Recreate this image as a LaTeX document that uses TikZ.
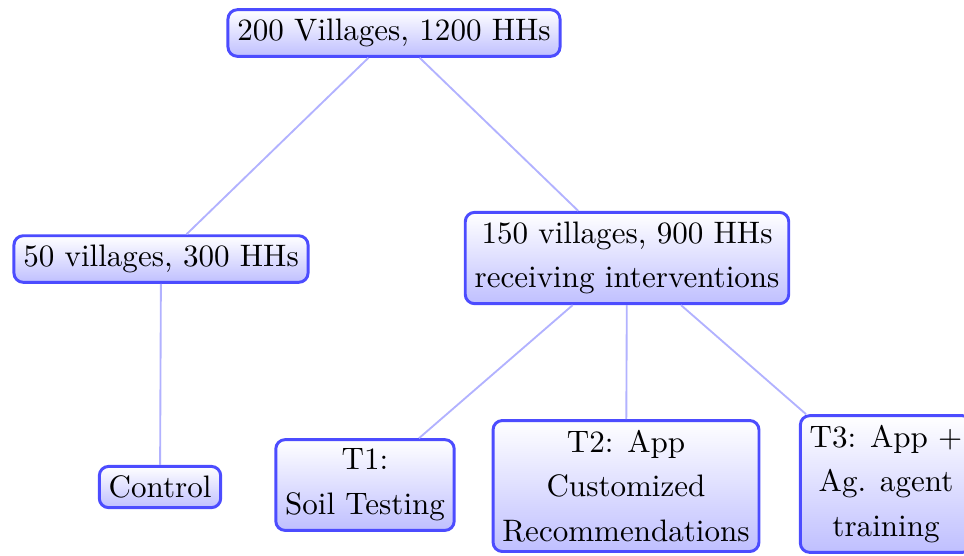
\documentclass[tikz,border=0pt]{standalone}
\begin{document}
\begin{tikzpicture}[x=0.322pt,y=-0.322pt,
  box/.style={draw=blue!70, line width=0.95pt, rounded corners=3pt, top color=white, bottom color=blue!25, align=center, inner sep=3pt, font=\fontsize{10}{14.4}\selectfont},
  link/.style={draw=blue!30, line width=0.6pt}]
\useasboundingbox (0,0) rectangle (964,555);
\node[box] (root) at (394,33) {200 Villages, 1200 HHs};
\node[box] (ctrlgrp) at (161,259) {50 villages, 300 HHs};
\node[box] (treat) at (627,258) {150 villages, 900 HHs\\receiving interventions};
\node[box] (ctl) at (160,487) {Control};
\node[box] (tone) at (365,485) {T1:\\Soil Testing};
\node[box] (ttwo) at (626,486) {T2: App\\Customized\\Recommendations};
\node[box] (tthree) at (886,484) {T3: App +\\Ag. agent\\training};
\draw[link] (root) -- (ctrlgrp);
\draw[link] (root) -- (treat);
\draw[link] (ctrlgrp) -- (ctl);
\draw[link] (treat) -- (tone);
\draw[link] (treat) -- (ttwo);
\draw[link] (treat) -- (tthree);
\end{tikzpicture}
\end{document}
